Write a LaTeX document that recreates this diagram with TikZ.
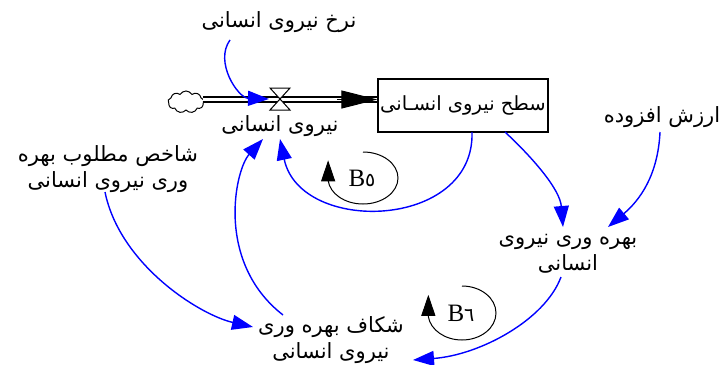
\documentclass[tikz,border=0pt]{standalone}
\usepackage{fontspec}
\usetikzlibrary{arrows.meta,shapes.symbols,calc}
\newfontfamily\arabicfont[Script=Arabic]{DejaVu Sans}
\newfontfamily\digitfont{DejaVu Sans}
\newfontfamily\serifB{Liberation Serif}
\TeXXeTstate=1
\newcommand{\fa}[1]{{\arabicfont\beginR #1\endR}}
\newcommand{\loopdigit}[1]{{\digitfont\fontsize{19}{21}\selectfont\symbol{#1}}}
\begin{document}
\begin{tikzpicture}[x=1pt,y=-1pt,
  lbl/.style={font=\fontsize{21}{26}\selectfont, align=center, inner sep=0pt},
  link/.style={draw=blue, line width=1.4pt, -{Triangle[length=21pt,width=15pt,fill=blue]}},
  loopline/.style={draw=black, line width=1pt, -{Triangle[length=21pt,width=14pt]}},
  looplbl/.style={font=\fontsize{25}{27}\selectfont, inner sep=0pt},
  pipe/.style={draw=black, line width=1.5pt, double=white, double distance=3.5pt},
  stockbox/.style={draw=black, line width=1.1pt, minimum width=170pt, minimum height=53pt, inner sep=0pt, font=\fontsize{19.5}{22}\selectfont},
  ]
\useasboundingbox[fill=white] (0,0) rectangle (722,364);

% texts
\node[lbl] (rate) at (279,22) {\fa{نرخ نیروی انسانی}};
\node[lbl] (flowlbl) at (280,126) {\fa{نیروی انسانی}};
\node[stockbox] (stock) at (463,105.5) {\fa{سطح نیروی انسـانی}};
\node[lbl] (va) at (662,117) {\fa{ارزش افزوده}};
\node[lbl] (idx) at (108,169) {\fa{شاخص مطلوب بهره}\\\fa{وری نیروی انسانی}};
\node[lbl] (prod) at (568,254) {\fa{بهره وری نیروی}\\\fa{انسانی}};
\node[lbl] (gap) at (331,340) {\fa{شکاف بهره وری}\\\fa{نیروی انسانی}};

% cloud, pipe, valve
\node[cloud, draw=black, cloud puffs=9, cloud puff arc=120, aspect=1.7,
      minimum width=36pt, minimum height=22pt, inner sep=0pt, line width=1pt] (cloud) at (186,102) {};
\coordinate (pipeS) at (203,99.5);
\coordinate (pipeE) at (stock.west |- pipeS);
\draw[pipe] (pipeS) -- (pipeE);
\draw[line width=1pt, -{Triangle[length=36pt,width=18pt]}] ($(pipeE)+(-40,0)$) -- (pipeE);
\coordinate (valve) at (280,99);
\draw[line width=1pt, fill=white] (270,88) -- (290,88) -- (270,110) -- (290,110) -- cycle;

% link end points
\coordinate (a1s) at (230,40);   \coordinate (a1e) at (269,99);
\coordinate (a2s) at (472,132);  \coordinate (a2e) at (280,139);
\coordinate (a3s) at (505,132);  \coordinate (a3e) at (563,227);
\coordinate (a4s) at (660,132);  \coordinate (a4e) at (608,227);
\coordinate (a5s) at (561,277);  \coordinate (a5e) at (413,360);
\coordinate (a6s) at (105,192);  \coordinate (a6e) at (253,327);
\coordinate (a7s) at (283,315);  \coordinate (a7e) at (263,139);

\draw[link] (a1s) .. controls (214,62) and (238,98) .. (a1e);
\draw[link] (a2s) .. controls (475,230) and (300,235) .. (a2e);
\draw[link] (a3s) .. controls (535,160) and (560,190) .. (a3e);
\draw[link] (a4s) .. controls (658,175) and (640,200) .. (a4e);
\draw[link] (a5s) .. controls (545,320) and (480,355) .. (a5e);
\draw[link] (a6s) .. controls (120,265) and (200,315) .. (a6e);
\draw[link] (a7s) .. controls (215,262) and (235,170) .. (a7e);

% loops
\node[looplbl] (b5) at (362,178) {{\serifB B}\loopdigit{"0665}};
\draw[loopline] (363,152) arc[start angle=-90, end angle=175, x radius=35, y radius=26] -- ++(0,-20);
\node[looplbl] (b6) at (461,313) {{\serifB B}\loopdigit{"0666}};
\draw[loopline] (462,286) arc[start angle=-90, end angle=172, x radius=34, y radius=27] -- ++(0,-22);
\end{tikzpicture}
\end{document}
